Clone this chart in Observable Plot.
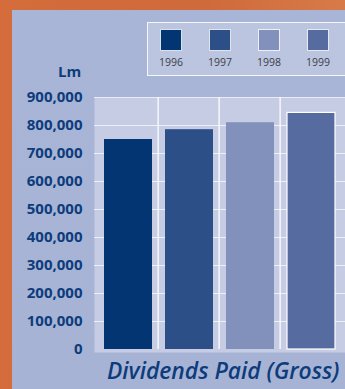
<!DOCTYPE html>
<html>
<head>
<meta charset="utf-8">
<script src="https://cdn.jsdelivr.net/npm/d3@7"></script>
<script src="https://cdn.jsdelivr.net/npm/@observablehq/plot@0.6"></script>
<style>
  html, body { margin: 0; padding: 0; }
  #wrap { position: relative; width: 345px; height: 389px; overflow: hidden;
    background: linear-gradient(90deg, #d46c3b, #cf6a3c 60%, #d77a4a); }
  #panel { position: absolute; left: 12px; top: 10px; right: 0; bottom: 0;
    background: linear-gradient(180deg, #a9b5d6 0%, #a7b3d4 100%); }
  #chart { position: absolute; left: 0; top: 0; }
  #legend { position: absolute; left: 147px; top: 22px; width: 210px; height: 52px;
    border: 1px solid rgba(255,255,255,0.85); background: rgba(255,255,255,0.22); }
  .item { position: absolute; top: 6px; width: 40px; text-align: center;
    font: 10.5px "Open Sans", sans-serif; color: #3a3d48; }
  .sw { width: 22px; height: 22px; margin: 0 auto 4px auto; border: 1px solid rgba(255,255,255,0.85); box-sizing: border-box; }
  #unit { position: absolute; left: 58px; top: 61px; font: 700 15px "Open Sans", sans-serif; color: #0c3c7c; }
  #title { position: absolute; left: 107px; top: 355px;
    font: italic 600 22.8px "Open Sans", sans-serif; color: #0c3c7c; white-space: nowrap; }
</style>
</head>
<body>
<div id="wrap">
  <div id="panel"></div>
  <div id="chart"></div>
  <div id="legend"></div>
  <div id="unit">Lm</div>
  <div id="title">Dividends Paid (Gross)</div>
</div>
<script>
const years = ["1996", "1997", "1998", "1999"];
const dividends = [750000, 785000, 810000, 845000];
const colors = ["#023572", "#2d4f88", "#8291bb", "#566ba0"];
const yTicks = [0, 100000, 200000, 300000, 400000, 500000, 600000, 700000, 800000, 900000];
const title = "Dividends Paid (Gross)";
const unit = "Lm";

const data = years.map((y, i) => ({year: y, value: dividends[i]}));

const W = 345, ML = 94, MR = 0;
const step = (W - ML - MR) / years.length;

const chart = Plot.plot({
  width: W,
  height: 389,
  marginLeft: ML,
  marginRight: MR,
  marginTop: 97,
  marginBottom: 40,
  style: { background: "transparent", fontFamily: "'Open Sans', sans-serif" },
  x: { type: "band", domain: years, paddingInner: 0.22, paddingOuter: 0.14, axis: null },
  y: { domain: [0, 900000] },
  color: { domain: years, range: colors },
  marks: [
    Plot.frame({ fill: "#c5cce3", stroke: null, insetBottom: -3 }),
    Plot.gridY(yTicks.slice(1), { stroke: "white", strokeOpacity: 0.7, strokeWidth: 1 }),
    Plot.gridX(years.slice(1), { stroke: "white", strokeOpacity: 0.85, strokeWidth: 1.5, dx: -step / 2 }),
    Plot.barY(data, {
      x: "year", y: "value", fill: "year",
      stroke: d => d.year === "1999" ? "white" : "none", strokeWidth: 1.2
    }),
    Plot.axisY(yTicks, {
      tickSize: 0, tickPadding: 12, tickFormat: d3.format(","),
      fill: "#0c3c7c", fontSize: 15, fontWeight: 700, label: null
    })
  ]
});
document.getElementById("chart").appendChild(chart);

const legend = document.getElementById("legend");
const lx = [12, 61, 110, 159];
years.forEach((y, i) => {
  const it = document.createElement("div");
  it.className = "item";
  it.style.left = (lx[i] - 9) + "px";
  const sw = document.createElement("div");
  sw.className = "sw";
  sw.style.background = colors[i];
  it.appendChild(sw);
  it.appendChild(document.createTextNode(y));
  legend.appendChild(it);
});
document.getElementById("title").textContent = title;
document.getElementById("unit").textContent = unit;
</script>
</body>
</html>
